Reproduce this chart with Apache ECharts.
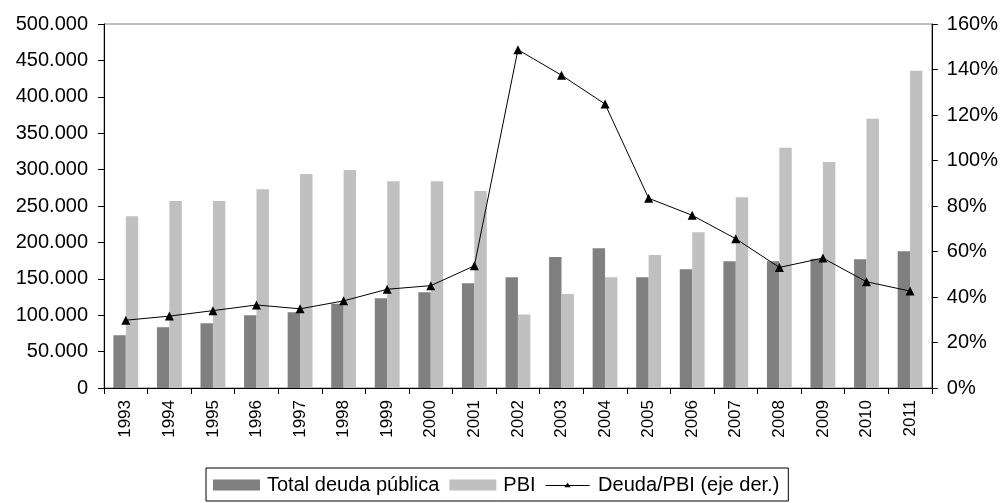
<!DOCTYPE html>
<html>
<head>
<meta charset="utf-8">
<script src="https://cdn.jsdelivr.net/npm/echarts@6/dist/echarts.min.js"></script>
<style>html,body{margin:0;padding:0;background:#fff}#c{width:1001px;height:503px}</style>
</head>
<body>
<div id="c"></div>
<script>
const years = ['1993','1994','1995','1996','1997','1998','1999','2000','2001','2002','2003','2004','2005','2006','2007','2008','2009','2010','2011'];
const deudaTotal = [72500,83500,89000,100000,104000,115600,123400,131600,144000,152000,180000,192000,152000,163000,174000,174000,177500,177000,188000];
const pbi = [236000,257000,257000,273000,294000,299500,284000,284000,270600,101000,129000,152000,182600,214000,262000,330000,310500,369700,435800];
const deudaPbi = [29.8,31.6,34.0,36.5,34.8,38.3,43.4,45.0,53.7,148.7,137.5,124.8,83.4,75.9,65.6,53.0,57.1,46.7,42.6];

const FONT = '"Liberation Sans", Arial, sans-serif';
const chart = echarts.init(document.getElementById('c'), null, {renderer: 'canvas'});
function fmtThousands(v) {
  return String(Math.round(v)).replace(/\B(?=(\d{3})+(?!\d))/g, '.');
}
const lineIcon = 'path://M0,0 L0,0 M48,12 L48,12 M0,6 L48,6 L48,7 L0,7 Z M24,3.5 L27.5,8.5 L20.5,8.5 Z';
chart.setOption({
  animation: false,
  backgroundColor: '#fff',
  textStyle: {fontFamily: FONT, color: '#000'},
  grid: {left: 104, right: 69, top: 24, bottom: 115, show: true, borderColor: '#808080', borderWidth: 1, backgroundColor: 'transparent'},
  legend: {
    left: 206, top: 468,
    padding: [7, 9, 6, 7],
    borderColor: '#000', borderWidth: 1,
    itemWidth: 47, itemHeight: 11, itemGap: 10,
    textStyle: {fontFamily: FONT, fontSize: 20, color: '#000', padding: [0, 0, 0, 2]},
    data: [
      {name: 'Total deuda pública', icon: 'rect'},
      {name: 'PBI', icon: 'rect'},
      {name: 'Deuda/PBI (eje der.)', icon: lineIcon, itemStyle: {color: '#000'}}
    ]
  },
  xAxis: {
    type: 'category',
    data: years,
    axisLine: {lineStyle: {color: '#000', width: 1}},
    axisTick: {show: true, length: 6, lineStyle: {color: '#000'}},
    axisLabel: {rotate: 90, fontSize: 17, color: '#000', fontFamily: FONT, margin: 12}
  },
  yAxis: [
    {
      type: 'value', min: 0, max: 500000, interval: 50000,
      axisLine: {show: true, lineStyle: {color: '#000'}},
      axisTick: {show: true, length: 6, lineStyle: {color: '#000'}},
      splitLine: {show: false},
      axisLabel: {fontSize: 20, color: '#000', fontFamily: FONT, margin: 16, formatter: fmtThousands}
    },
    {
      type: 'value', min: 0, max: 160, interval: 20, position: 'right',
      axisLine: {show: true, lineStyle: {color: '#000'}},
      axisTick: {show: true, length: 6, lineStyle: {color: '#000'}},
      splitLine: {show: false},
      axisLabel: {fontSize: 20, color: '#000', fontFamily: FONT, margin: 15, formatter: v => v + '%'}
    }
  ],
  series: [
    {name: 'Total deuda pública', type: 'bar', data: deudaTotal, itemStyle: {color: '#808080'}, barGap: '0%', barCategoryGap: '43%'},
    {name: 'PBI', type: 'bar', data: pbi, itemStyle: {color: '#c0c0c0'}, barGap: '0%', barCategoryGap: '43%'},
    {name: 'Deuda/PBI (eje der.)', type: 'line', yAxisIndex: 1, data: deudaPbi,
      symbol: 'triangle', symbolSize: 9, showAllSymbol: true,
      lineStyle: {color: '#000', width: 1}, itemStyle: {color: '#000'}, z: 5}
  ]
});
</script>
</body>
</html>
